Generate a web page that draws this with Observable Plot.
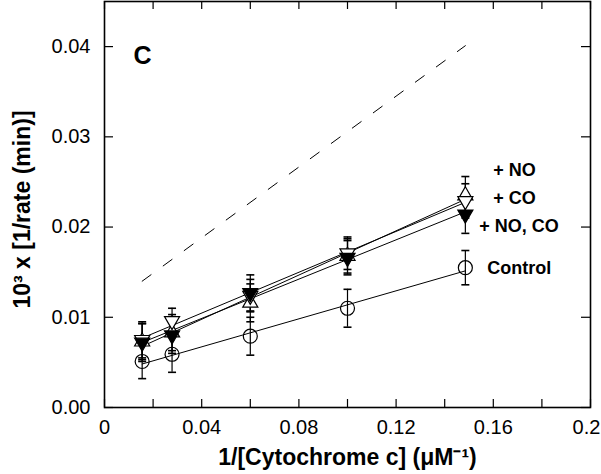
<!DOCTYPE html>
<html>
<head>
<meta charset="utf-8">
<script src="https://cdn.jsdelivr.net/npm/d3@7"></script>
<script src="https://cdn.jsdelivr.net/npm/@observablehq/plot@0.6"></script>
<style>
  html, body { margin: 0; padding: 0; background: #fff; }
  #chart svg { display: block; }
</style>
</head>
<body>
<div id="chart"></div>
<script>
// ---- data ----
const xValues = [0.0155, 0.0278, 0.060, 0.100, 0.1485];

const seriesNames = ["+ NO", "+ CO", "+ NO, CO", "Control"];
const noValues    = [0.0073, 0.0083, 0.0116, 0.0168, 0.0235];
const coValues    = [0.0075, 0.0096, 0.0124, 0.0171, 0.0229];
const noCoValues  = [0.0072, 0.0080, 0.0127, 0.0166, 0.0214];
const ctrlValues  = [0.0051, 0.0059, 0.0079, 0.0110, 0.0155];

const noErr   = [0.0020, 0.0020, 0.0021, 0.0019, 0.0021];
const coErr   = [0.0020, 0.0014, 0.0018, 0.0018, 0.0019];
const noCoErr = [0.0021, 0.0020, 0.0020, 0.0019, 0.0021];
const ctrlErr = [0.0019, 0.0020, 0.0021, 0.0021, 0.0019];

// dashed reference line (end points)
const dashX = [0.0155, 0.1485];
const dashY = [0.0140, 0.0401];

const xTicks = [0, 0.02, 0.04, 0.06, 0.08, 0.10, 0.12, 0.14, 0.16, 0.18, 0.20];
const xLabelTicks = [0, 0.04, 0.08, 0.12, 0.16];
const xTickLabels = ["0", "0.04", "0.08", "0.12", "0.16"];
const xLastTick = [0.20];
const xLastLabel = ["0.2"];
const yTicks = [0, 0.01, 0.02, 0.03, 0.04];
const yTickLabels = ["0.00", "0.01", "0.02", "0.03", "0.04"];

const panelLabel = "C";
const xTitle = "1/[Cytochrome c] (\u03bcM\u207b\u00b9)";
const yTitle = "10\u00b3 x [1/rate (min)]";

// ---- build table ----
const seriesValues = [noValues, coValues, noCoValues, ctrlValues];
const seriesErr = [noErr, coErr, noCoErr, ctrlErr];
const rows = [];
seriesNames.forEach((name, s) => {
  xValues.forEach((x, i) => {
    rows.push({series: name, x, y: seriesValues[s][i], lo: seriesValues[s][i] - seriesErr[s][i], hi: seriesValues[s][i] + seriesErr[s][i]});
  });
});
const dashRows = dashX.map((x, i) => ({x, y: dashY[i]}));
const bySeries = name => rows.filter(d => d.series === name);
const lastOf = name => { const r = bySeries(name); return [r[r.length - 1]]; };

const capSymbol = {
  draw(ctx, size) {
    const w = Math.sqrt(size / Math.PI);
    ctx.moveTo(-w, 0);
    ctx.lineTo(w, 0);
  }
};

const W = 601, H = 474;
const mL = 104, mR = 11, mT = 1, mB = 67;
const plotW = W - mL - mR, plotH = H - mT - mB;
const font = "'Liberation Sans', Arial, sans-serif";

const chart = Plot.plot({
  width: W,
  height: H,
  marginLeft: mL,
  marginRight: mR,
  marginTop: mT,
  marginBottom: mB,
  style: {fontFamily: font, fontSize: "20px", color: "#000", background: "#fff"},
  x: {domain: [0, 0.2]},
  y: {domain: [0, 0.045]},
  marks: [
    // axes labels
    Plot.axisX({ticks: xLabelTicks, tickSize: 0, tickPadding: 12, tickFormat: (d, i) => xTickLabels[i], label: null, fontSize: 20}),
    Plot.axisX({ticks: xLastTick, tickSize: 0, tickPadding: 12, tickFormat: (d, i) => xLastLabel[i], label: null, fontSize: 20, dx: -4}),
    Plot.axisY({ticks: yTicks, tickSize: 0, tickPadding: 14, tickFormat: (d, i) => yTickLabels[i], label: null, fontSize: 20}),
    // inward ticks
    Plot.tickX(xTicks, {x: d => d, insetTop: plotH - 8, stroke: "#000", strokeWidth: 1.2}),
    Plot.tickX(xTicks, {x: d => d, insetBottom: plotH - 8, stroke: "#000", strokeWidth: 1.2}),
    Plot.tickY(yTicks, {y: d => d, insetRight: plotW - 9, stroke: "#000", strokeWidth: 1.2}),
    Plot.tickY(yTicks, {y: d => d, insetLeft: plotW - 9, stroke: "#000", strokeWidth: 1.2}),
    Plot.frame({stroke: "#000", strokeWidth: 1.6}),
    // dashed line
    Plot.line(dashRows, {x: "x", y: "y", stroke: "#000", strokeWidth: 1, strokeDasharray: "11,15"}),
    // regression lines
    Plot.linearRegressionY(rows, {x: "x", y: "y", z: "series", ci: 0, stroke: "#000", strokeWidth: 1}),
    // error bars
    Plot.ruleX(rows, {x: "x", y1: "lo", y2: "hi", stroke: "#000", strokeWidth: 1.2}),
    Plot.dot(rows, {x: "x", y: "hi", symbol: capSymbol, r: 4, fill: "none", stroke: "#000", strokeWidth: 1.6}),
    Plot.dot(rows, {x: "x", y: "lo", symbol: capSymbol, r: 4, fill: "none", stroke: "#000", strokeWidth: 1.6}),
    // markers
    Plot.dot(bySeries("Control"), {x: "x", y: "y", symbol: "circle", r: 7, fill: "none", stroke: "#000", strokeWidth: 1.2}),
    Plot.dot(bySeries("+ NO"), {x: "x", y: "y", symbol: "triangle", r: 5.6, fill: "#fff", stroke: "#000", strokeWidth: 1.2}),
    Plot.dot(bySeries("+ CO"), {x: "x", y: "y", symbol: "triangle", rotate: 180, r: 5.6, fill: "#fff", stroke: "#000", strokeWidth: 1.2}),
    Plot.dot(bySeries("+ NO, CO"), {x: "x", y: "y", symbol: "triangle", rotate: 180, r: 5.6, fill: "#000", stroke: "#000", strokeWidth: 1.2}),
    // series labels
    Plot.text(lastOf("+ NO"), {x: "x", y: "y", text: "series", textAnchor: "start", dx: 28, dy: -25, fontWeight: "bold", fontSize: 18}),
    Plot.text(lastOf("+ CO"), {x: "x", y: "y", text: "series", textAnchor: "start", dx: 28, dy: -3, fontWeight: "bold", fontSize: 18}),
    Plot.text(lastOf("+ NO, CO"), {x: "x", y: "y", text: "series", textAnchor: "start", dx: 14, dy: 12, fontWeight: "bold", fontSize: 18}),
    Plot.text(lastOf("Control"), {x: "x", y: "y", text: "series", textAnchor: "start", dx: 22, dy: 1, fontWeight: "bold", fontSize: 18}),
    // panel letter
    Plot.text([panelLabel], {frameAnchor: "top-left", text: d => d, textAnchor: "start", lineAnchor: "middle", dx: 29, dy: 54, fontSize: 25, fontWeight: "bold"}),
    // axis titles
    Plot.text([xTitle], {frameAnchor: "bottom", text: d => d, textAnchor: "middle", lineAnchor: "middle", dy: 50, fontSize: 23, fontWeight: "bold"}),
    Plot.text([yTitle], {frameAnchor: "left", text: d => d, rotate: -90, textAnchor: "middle", lineAnchor: "middle", dx: -82, dy: 5, fontSize: 23, fontWeight: "bold"})
  ]
});
document.getElementById("chart").appendChild(chart);
</script>
</body>
</html>
